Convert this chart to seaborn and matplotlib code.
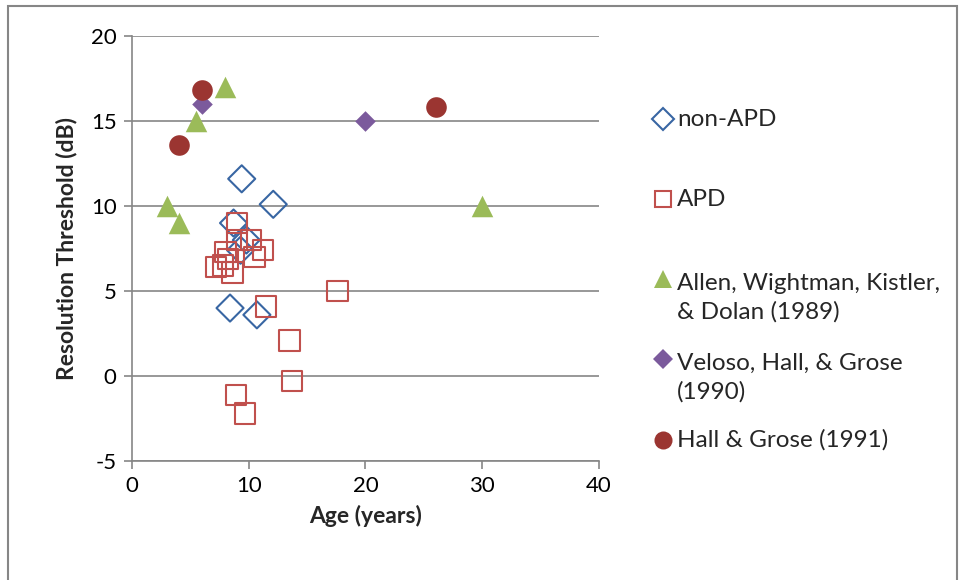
import seaborn as sns
import matplotlib.pyplot as plt
from matplotlib.lines import Line2D
from matplotlib.patches import Rectangle

non_apd_age = [9.4, 12.1, 8.7, 9.8, 9.3, 8.4, 10.7]
non_apd_thr = [11.6, 10.1, 9.0, 8.0, 7.4, 4.0, 3.6]

apd_age = [9.0, 9.0, 10.2, 11.2, 10.5, 8.0, 8.2, 7.8, 7.2, 8.6, 11.5, 17.6, 13.5, 13.7, 8.9, 9.7]
apd_thr = [9.0, 8.0, 8.0, 7.4, 7.0, 7.3, 6.9, 6.5, 6.4, 6.1, 4.1, 5.0, 2.1, -0.3, -1.1, -2.2]

allen_age = [3.0, 4.0, 5.5, 8.0, 30.0]
allen_thr = [10.0, 9.0, 15.0, 17.0, 10.0]

veloso_age = [6.0, 20.0]
veloso_thr = [16.0, 15.0]

hall_age = [6.0, 4.0, 26.0]
hall_thr = [16.8, 13.6, 15.8]

labels = ["non-APD", "APD", "Allen, Wightman, Kistler,\n& Dolan (1989)",
          "Veloso, Hall, & Grose\n(1990)", "Hall & Grose (1991)"]

sns.set_theme(style="white")
plt.rcParams['font.family'] = ['Lato', 'DejaVu Sans']
plt.rcParams['axes.unicode_minus'] = False

fig = plt.figure(figsize=(9.59, 5.8), dpi=100)
ax = fig.add_axes([0.1376, 0.205, 0.487, 0.733])

sns.scatterplot(x=non_apd_age, y=non_apd_thr, marker="D", s=190, facecolor="none",
                edgecolor="#3866a3", linewidth=1.5, ax=ax, zorder=3)
sns.scatterplot(x=apd_age, y=apd_thr, marker="s", s=215, facecolor="none",
                edgecolor="#c0504d", linewidth=1.5, ax=ax, zorder=3)
sns.scatterplot(x=allen_age, y=allen_thr, marker="^", s=240, color="#9bbb59",
                edgecolor="#9bbb59", linewidth=0, ax=ax, zorder=3)
sns.scatterplot(x=veloso_age, y=veloso_thr, marker="D", s=110, color="#7b5a9c",
                edgecolor="#7b5a9c", linewidth=0, ax=ax, zorder=3)
sns.scatterplot(x=hall_age, y=hall_thr, marker="o", s=220, color="#9b3531",
                edgecolor="#9b3531", linewidth=0, ax=ax, zorder=3)

ax.set_xlim(0, 40)
ax.set_ylim(-5, 20)
ax.set_xticks([0, 10, 20, 30, 40])
ax.set_yticks([-5, 0, 5, 10, 15, 20])
ax.yaxis.grid(True, color="#868686", linewidth=1.2)
ax.set_axisbelow(True)
for side in ["top", "right"]:
    ax.spines[side].set_visible(False)
for side in ["left", "bottom"]:
    ax.spines[side].set_color("#868686")
    ax.spines[side].set_linewidth(1.2)
ax.tick_params(axis="both", direction="out", length=6, width=1.2, color="#868686",
               labelsize=16, labelcolor="black", left=True, bottom=True, pad=5)
ax.set_xlabel("Age (years)", fontsize=16.5, fontweight="bold", labelpad=6)
ax.set_ylabel("Resolution Threshold (dB)", fontsize=16.5, fontweight="bold", labelpad=10)

# legend laid out like Excel: marker level with the first line of each entry
handles = [
    Line2D([], [], marker="D", ms=11, mfc="none", mec="#3866a3", mew=1.5, ls=""),
    Line2D([], [], marker="s", ms=12, mfc="none", mec="#c0504d", mew=1.5, ls=""),
    Line2D([], [], marker="^", ms=13, mfc="#9bbb59", mec="#9bbb59", mew=0, ls=""),
    Line2D([], [], marker="D", ms=10, mfc="#7b5a9c", mec="#7b5a9c", mew=0, ls=""),
    Line2D([], [], marker="o", ms=13, mfc="#9b3531", mec="#9b3531", mew=0, ls=""),
]
entry_y = [119, 199, 279, 359, 440]
line_px = 33
for h, lab, py in zip(handles, labels, entry_y):
    h.set_data([663 / 959], [1 - py / 580])
    h.set_transform(fig.transFigure)
    fig.add_artist(h)
    # baseline of a multi-line text is that of its last line
    base = py + 7 + line_px * lab.count("\n")
    fig.text(677 / 959, 1 - base / 580, lab, fontsize=17.5, va="baseline",
             ha="left", linespacing=1.42)

fig.patches.append(Rectangle((0.008, -0.05), 0.99, 1.04, transform=fig.transFigure,
                             fill=False, edgecolor="#868686", linewidth=1.5))

fig.savefig("out.png", dpi=100)
